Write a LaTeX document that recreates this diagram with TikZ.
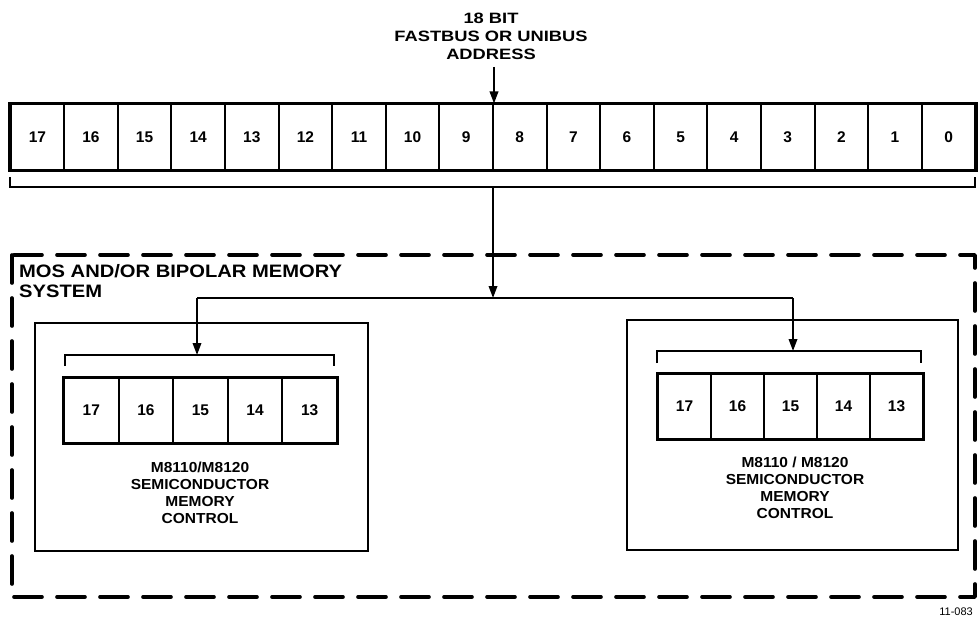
\documentclass[tikz,border=0pt]{standalone}
\usepackage{fontspec}
\setmainfont{Liberation Sans}
\newfontfamily\lettering[FakeStretch=1.12]{Liberation Sans}
\newfontfamily\letteringwide[FakeStretch=1.22]{Liberation Sans}
\newfontfamily\letteringnarrow[FakeStretch=1.07]{Liberation Sans}
\usetikzlibrary{arrows.meta}
\begin{document}
\begin{tikzpicture}[x=1pt,y=-1pt,
  cellbox/.style={draw, line width=2pt, minimum height=65pt, inner sep=0pt,
     font=\bfseries\fontsize{15.5}{16}\selectfont},
  outline/.style={line width=2.7pt},
  boxline/.style={line width=2.6pt},
  wire/.style={line width=1.9pt},
  arr/.style={wire, -{Triangle[length=12pt,width=8.5pt]}},
  sysdash/.style={line width=3.6pt, dash pattern=on 28pt off 15pt, line cap=round, line join=round},
  lbl/.style={align=center, inner sep=0pt},
  ctltext/.style={lbl, font=\letteringnarrow\bfseries\fontsize{14.5}{17}\selectfont, anchor=base},
]
\useasboundingbox (0,0) rectangle (978,618);

% ---- top 18-bit register ----
\foreach \b [count=\i from 0] in {17,16,...,0} {
  \node[cellbox, minimum width=53.6pt] (t\b) at ({10.6+53.6*(\i+0.5)},137) {\b};
}
\draw[outline] (t17.north west) rectangle (t0.south east);

% address label (base = baseline of last line)
\node[lbl, font=\letteringwide\bfseries\fontsize{15}{18}\selectfont, anchor=base] (addr) at (491,60)
  {18 BIT\\FASTBUS OR UNIBUS\\ADDRESS};
\draw[arr] (t9.north east |- 0,67) -- (t9.north east);

% bracket under the top register
\coordinate (tbl) at (10,177);
\coordinate (tbr) at (975,177);
\coordinate (tbm) at (493,187);
\draw[wire] (tbl) -- (tbl |- tbm) -- (tbr |- tbm) -- (tbr);

% ---- memory system dashed frame ----
\draw[sysdash] (12,255) rectangle (975,597);
\node[lbl, align=left, anchor=north west, font=\lettering\bfseries\fontsize{18}{20}\selectfont] (sys) at (19,264)
  {MOS AND/OR BIPOLAR MEMORY\\SYSTEM};

% ---- left controller ----
\draw[boxline] (35,323) rectangle (368,551);
\foreach \b [count=\i from 0] in {17,16,...,13} {
  \node[cellbox, minimum width=54.6pt] (l\b) at ({64+54.6*(\i+0.5)},410.5) {\b};
}
\draw[outline] (l17.north west) rectangle (l13.south east);
\coordinate (lbl) at (65,366);
\coordinate (lbr) at (334,366);
\coordinate (lbm) at (197,355);
\draw[wire] (lbl) -- (lbl |- lbm) -- (lbr |- lbm) -- (lbr);
\node[ctltext] (lctl) at (200,523)
  {M8110/M8120\\SEMICONDUCTOR\\MEMORY\\CONTROL};

% ---- right controller ----
\draw[boxline] (627,320) rectangle (958,550);
\foreach \b [count=\i from 0] in {17,16,...,13} {
  \node[cellbox, minimum width=53pt] (r\b) at ({658+53*(\i+0.5)},406.5) {\b};
}
\draw[outline] (r17.north west) rectangle (r13.south east);
\coordinate (rbl) at (657,363);
\coordinate (rbr) at (921,363);
\coordinate (rbm) at (793,351);
\draw[wire] (rbl) -- (rbl |- rbm) -- (rbr |- rbm) -- (rbr);
\node[ctltext] (rctl) at (795,518)
  {M8110 / M8120\\SEMICONDUCTOR\\MEMORY\\CONTROL};

% ---- address distribution ----
\coordinate (jn) at (493,298);
\draw[arr] (tbm) -- (jn);
\draw[wire] (lbm |- jn) -- (rbm |- jn);
\draw[arr] (lbm |- jn) -- (lbm);
\draw[arr] (rbm |- jn) -- (rbm);

% drawing number
\node[inner sep=0pt, font=\fontsize{11}{12}\selectfont, anchor=east] (num) at (973,612) {11-083};
\end{tikzpicture}
\end{document}
